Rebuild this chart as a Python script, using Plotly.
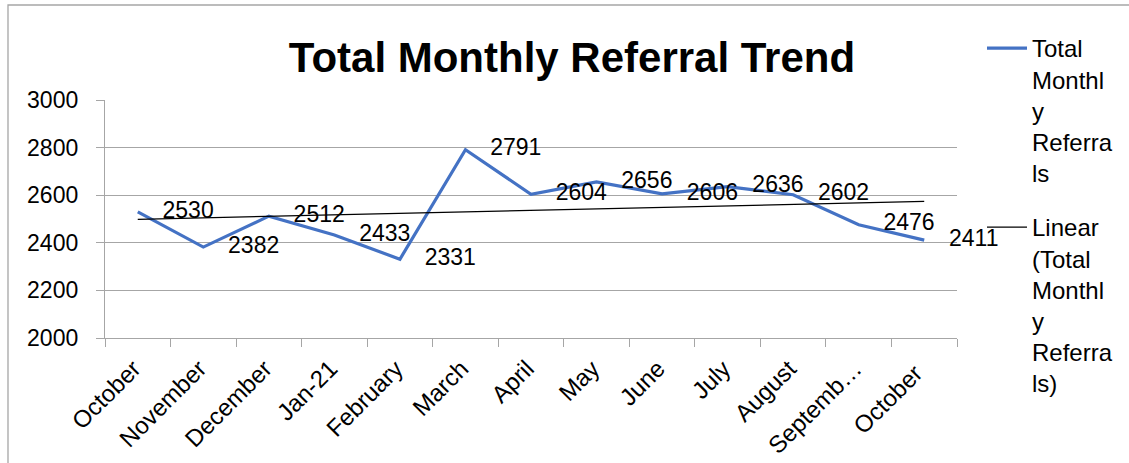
import numpy as np
import plotly.graph_objects as go

categories = ["October", "November", "December", "Jan-21", "February", "March",
              "April", "May", "June", "July", "August", "Septemb…", "October "]
referrals = [2530, 2382, 2512, 2433, 2331, 2791, 2604, 2656, 2606, 2636, 2602, 2476, 2411]
y_ticks = [2000, 2200, 2400, 2600, 2800, 3000]

# linear trendline (least squares fit of the series, like Excel's "Linear" trendline)
idx = np.arange(len(referrals))
slope, intercept = np.polyfit(idx, referrals, 1)
trend = [intercept + slope * i for i in idx]

W, H = 1129, 463
L, R, T, B = 105, 172, 100, 125
pw = W - L - R
ph = H - T - B

def px(x):
    return (x - L) / pw

def py(y):
    return (H - B - y) / ph

FONT = "Liberation Sans"
GRID = "#a6a6a6"

fig = go.Figure()
fig.add_trace(go.Scatter(
    x=categories, y=referrals, mode="lines+markers+text",
    name="Total<br>Monthl<br>y<br>Referra<br>ls", legendgroup="a",
    line=dict(color="#4472C4", width=3.2),
    marker=dict(size=38, color="rgba(0,0,0,0)"),
    text=[str(v) for v in referrals], textposition="middle right",
    textfont=dict(family=FONT, size=23, color="#000000"),
    cliponaxis=False, hoverinfo="skip",
))
fig.add_trace(go.Scatter(
    x=categories, y=trend, mode="lines", legendgroup="b",
    name="Linear<br>(Total<br>Monthl<br>y<br>Referra<br>ls)",
    line=dict(color="#000000", width=1.2), hoverinfo="skip",
))

fig.update_layout(
    width=W, height=H,
    margin=dict(l=L, r=R, t=T, b=B, autoexpand=False),
    paper_bgcolor="white", plot_bgcolor="white",
    font=dict(family=FONT, size=23, color="#000000"),
    title=dict(text="<b>Total Monthly Referral Trend</b>",
               font=dict(family=FONT, size=42, color="#000000"),
               x=572 / W, xanchor="center", y=1 - 57 / H, yanchor="middle"),
    legend=dict(x=px(982), xanchor="left", y=py(26), yanchor="top",
                font=dict(family=FONT, size=24, color="#000000"),
                valign="top", bgcolor="rgba(0,0,0,0)", itemwidth=40,
                tracegroupgap=20, maxheight=1000),
    showlegend=True,
    xaxis=dict(type="category", categoryorder="array", categoryarray=categories,
               range=[-0.5, len(categories) - 0.5], automargin=False,
               tickangle=-45, tickson="boundaries", ticks="outside", ticklen=8,
               tickcolor=GRID, showline=True, linecolor=GRID, linewidth=1.3,
               showgrid=False, tickfont=dict(family=FONT, size=24),
               ticklabelstandoff=6, ticklabelshift=-4),
    yaxis=dict(range=[2000, 3000], tickvals=y_ticks, ticks="outside", ticklen=8,
               automargin=False,
               tickcolor=GRID, showline=True, linecolor=GRID, linewidth=1.3,
               showgrid=True, gridcolor=GRID, gridwidth=1.3,
               tickfont=dict(family=FONT, size=23), zeroline=False,
               ticklabelstandoff=13),
    shapes=[dict(type="rect", xref="paper", yref="paper",
                 x0=px(8), x1=px(1140), y0=py(475), y1=py(5),
                 line=dict(color="#a6a6a6", width=1.3), fillcolor="rgba(0,0,0,0)",
                 layer="below")],
)

fig.write_html("out.html", config={"displayModeBar": False},
               post_script="document.body.style.margin='0';document.body.style.overflow='hidden';")
